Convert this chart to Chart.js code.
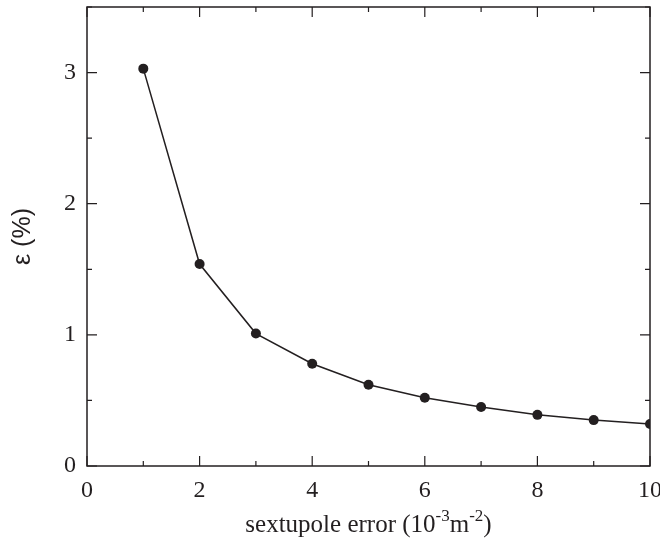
<!DOCTYPE html>
<html>
<head>
<meta charset="utf-8">
<script src="https://cdn.jsdelivr.net/npm/chart.js@4"></script>
<style>
  html, body { margin: 0; padding: 0; background: #fff; }
  #wrap { width: 660px; height: 548px; }
</style>
</head>
<body>
<div id="wrap"><canvas id="chart" width="660" height="548"></canvas></div>
<script>
const errors = [1, 2, 3, 4, 5, 6, 7, 8, 9, 10];
const epsilon = [3.03, 1.54, 1.01, 0.78, 0.62, 0.52, 0.45, 0.39, 0.35, 0.32];
const xMajor = [0, 2, 4, 6, 8, 10];
const xMinor = [1, 3, 5, 7, 9];
const yMajor = [0, 1, 2, 3];
const yMinor = [0.5, 1.5, 2.5, 3.5];

const ink = '#231f20';
const serif = '"Liberation Serif", "Times New Roman", serif';

// frame + inward ticks on all four sides
const frameTicks = {
    id: 'frameTicks',
    afterDraw(chart) {
        const { ctx, chartArea: a, scales: { x, y } } = chart;
        ctx.save();
        ctx.strokeStyle = ink;
        ctx.lineWidth = 1.5;
        ctx.strokeRect(a.left, a.top, a.right - a.left, a.bottom - a.top);
        ctx.lineWidth = 1.2;
        ctx.beginPath();
        const xt = (v, len) => {
            const px = x.getPixelForValue(v);
            ctx.moveTo(px, a.bottom); ctx.lineTo(px, a.bottom - len);
            ctx.moveTo(px, a.top); ctx.lineTo(px, a.top + len);
        };
        const yt = (v, len) => {
            const py = y.getPixelForValue(v);
            ctx.moveTo(a.left, py); ctx.lineTo(a.left + len, py);
            ctx.moveTo(a.right, py); ctx.lineTo(a.right - len, py);
        };
        xMajor.forEach(v => xt(v, 10));
        xMinor.forEach(v => xt(v, 5));
        yMajor.forEach(v => yt(v, 10));
        yMinor.forEach(v => yt(v, 5));
        ctx.stroke();

        // x title with superscripts
        const base = 532;
        const big = '25px ' + serif, small = '17px ' + serif;
        const parts = [
            ['sextupole error (10', big, 0],
            ['-3', small, -11],
            ['m', big, 0],
            ['-2', small, -11],
            [')', big, 0]
        ];
        let total = 0;
        parts.forEach(p => { ctx.font = p[1]; total += ctx.measureText(p[0]).width; });
        let cx = (a.left + a.right) / 2 - total / 2;
        ctx.fillStyle = ink;
        ctx.textBaseline = 'alphabetic';
        ctx.textAlign = 'left';
        parts.forEach(p => {
            ctx.font = p[1];
            ctx.fillText(p[0], cx, base + p[2]);
            cx += ctx.measureText(p[0]).width;
        });
        ctx.restore();
    }
};

new Chart(document.getElementById('chart'), {
    type: 'line',
    data: {
        datasets: [{
            data: errors.map((e, i) => ({ x: e, y: epsilon[i] })),
            borderColor: ink,
            backgroundColor: ink,
            borderWidth: 1.5,
            pointRadius: 5,
            pointBorderWidth: 0,
            pointBackgroundColor: ink,
            tension: 0
        }]
    },
    options: {
        responsive: false,
        animation: false,
        layout: { padding: { top: 7, right: 10, left: 0, bottom: 0 } },
        plugins: { legend: { display: false }, tooltip: { enabled: false } },
        scales: {
            x: {
                type: 'linear',
                min: 0, max: 10,
                afterBuildTicks: s => { s.ticks = xMajor.map(v => ({ value: v })); },
                afterFit: s => { s.height = 82; s.paddingLeft = 0; s.paddingRight = 0; },
                grid: { display: false, drawTicks: false, tickLength: 0 },
                border: { display: false },
                ticks: { color: ink, font: { family: serif, size: 24 }, padding: 10, maxRotation: 0 },
                title: { display: false }
            },
            y: {
                min: 0, max: 3.5,
                afterBuildTicks: s => { s.ticks = yMajor.map(v => ({ value: v })); },
                afterFit: s => { s.width = 87; s.paddingTop = 0; s.paddingBottom = 0; },
                grid: { display: false, drawTicks: false, tickLength: 0 },
                border: { display: false },
                ticks: { color: ink, font: { family: serif, size: 24 }, padding: 11 },
                title: {
                    display: true,
                    text: 'ε (%)',
                    color: ink,
                    font: { family: '"Liberation Sans", Arial, sans-serif', size: 25 },
                    padding: { top: 8, bottom: 0 }
                }
            }
        }
    },
    plugins: [frameTicks]
});
</script>
</body>
</html>
